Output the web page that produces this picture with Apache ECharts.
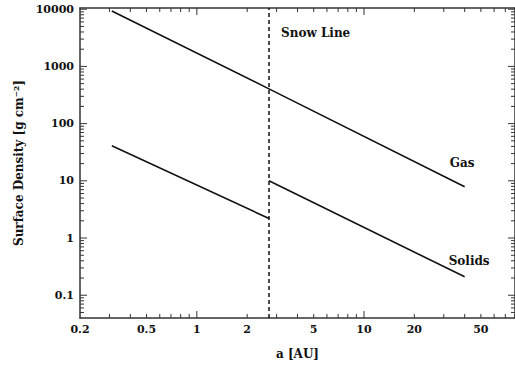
<!DOCTYPE html>
<html>
<head>
<meta charset="utf-8">
<script src="https://cdn.jsdelivr.net/npm/echarts@6/dist/echarts.min.js"></script>
<style>
html,body{margin:0;padding:0;background:#fff;}
#chart{width:515px;height:365px;}
</style>
</head>
<body>
<div id="chart"></div>
<script>
// ---- data ----
const gas = [[0.31, 9300], [2.7, 405], [40, 7.9]];
const solidsInner = [[0.31, 41], [2.7, 2.2]];
const solidsOuter = [[2.7, 10], [40, 0.21]];
const snowLine = 2.7;

const xLabelValues = [0.2, 0.5, 1, 2, 5, 10, 20, 50];
const xMajorTicks = [1, 10];
const xMinorTicks = [0.3, 0.4, 0.5, 0.6, 0.7, 0.8, 0.9, 2, 3, 4, 5, 6, 7, 8, 9, 20, 30, 40, 50, 60, 70, 80];
const yLabelValues = [0.1, 1, 10, 100, 1000, 10000];
const yMajorTicks = [0.1, 1, 10, 100, 1000, 10000];
const yMinorTicks = [0.05, 0.06, 0.07, 0.08, 0.09,
  0.2, 0.3, 0.4, 0.5, 0.6, 0.7, 0.8, 0.9,
  2, 3, 4, 5, 6, 7, 8, 9,
  20, 30, 40, 50, 60, 70, 80, 90,
  200, 300, 400, 500, 600, 700, 800, 900,
  2000, 3000, 4000, 5000, 6000, 7000, 8000, 9000];

const xMin = 0.2, xMax = 80, yMin = 0.04, yMax = 10500;

// ---- styles ----
const FONT = 'DejaVu Serif';
const frameColor = '#333';
const inkColor = '#111';
const fmt = v => String(Number(Number(v).toPrecision(6)));
const MAJOR_LEN = 7, MINOR_LEN = 4;

function baseAxis(min, max) {
  return {
    type: 'log', logBase: 10, min: min, max: max,
    axisLine: { show: true, lineStyle: { color: frameColor, width: 1.5 } },
    axisTick: { show: false },
    axisLabel: { show: false },
    splitLine: { show: false }, minorTick: { show: false }
  };
}

const xBottom = Object.assign(baseAxis(xMin, xMax), {
  position: 'bottom',
  axisLabel: { show: true, customValues: xLabelValues, margin: 6, color: '#111',
    fontFamily: FONT, fontWeight: 'bold', fontSize: 11, formatter: fmt },
  name: 'a [AU]', nameLocation: 'middle', nameGap: 30,
  nameTextStyle: { fontFamily: FONT, fontWeight: 'bold', fontSize: 12, color: '#111' }
});
const xTop = Object.assign(baseAxis(xMin, xMax), { position: 'top' });
const yLeft = Object.assign(baseAxis(yMin, yMax), {
  position: 'left',
  axisLabel: { show: true, customValues: yLabelValues, margin: 6, color: '#111',
    fontFamily: FONT, fontWeight: 'bold', fontSize: 11, formatter: fmt },
  name: 'Surface Density [g cm\u207B\u00B2]', nameLocation: 'middle', nameGap: 54, nameRotate: 90,
  nameTextStyle: { fontFamily: FONT, fontWeight: 'bold', fontSize: 12, color: '#111' }
});
const yRight = Object.assign(baseAxis(yMin, yMax), { position: 'right' });

// tick marks drawn through the axes' own scales
function xTickRender(len) {
  return function (params, api) {
    const v = api.value(0);
    const b = api.coord([v, yMin]);
    const t = api.coord([v, yMax]);
    const st = { stroke: frameColor, lineWidth: 1 };
    return { type: 'group', children: [
      { type: 'line', shape: { x1: b[0], y1: b[1], x2: b[0], y2: b[1] - len }, style: st },
      { type: 'line', shape: { x1: t[0], y1: t[1], x2: t[0], y2: t[1] + len }, style: st }
    ] };
  };
}
function yTickRender(len) {
  return function (params, api) {
    const v = api.value(1);
    const l = api.coord([xMin, v]);
    const r = api.coord([xMax, v]);
    const st = { stroke: frameColor, lineWidth: 1 };
    return { type: 'group', children: [
      { type: 'line', shape: { x1: l[0], y1: l[1], x2: l[0] + len, y2: l[1] }, style: st },
      { type: 'line', shape: { x1: r[0], y1: r[1], x2: r[0] - len, y2: r[1] }, style: st }
    ] };
  };
}
function tickSeries(name, data, render) {
  return { name: name, type: 'custom', xAxisIndex: 0, yAxisIndex: 0, silent: true,
    clip: false, renderItem: render, data: data, z: 3 };
}

const chart = echarts.init(document.getElementById('chart'), null, { renderer: 'svg' });
chart.setOption({
  animation: false,
  backgroundColor: '#fff',
  grid: { left: 80, top: 8, width: 440, height: 317 },
  xAxis: [xBottom, xTop],
  yAxis: [yLeft, yRight],
  graphic: [{
    type: 'text', left: 281, top: 27, silent: true,
    style: { text: 'Snow Line', fill: '#111', font: 'bold 12px "DejaVu Serif"' }
  }],
  series: [
    tickSeries('xMajor', xMajorTicks.map(v => [v, 1]), xTickRender(MAJOR_LEN)),
    tickSeries('xMinor', xMinorTicks.map(v => [v, 1]), xTickRender(MINOR_LEN)),
    tickSeries('yMajor', yMajorTicks.map(v => [1, v]), yTickRender(MAJOR_LEN)),
    tickSeries('yMinor', yMinorTicks.map(v => [1, v]), yTickRender(MINOR_LEN)),
    {
      name: 'Gas', type: 'line', xAxisIndex: 0, yAxisIndex: 0,
      data: gas, showSymbol: false, silent: true,
      lineStyle: { color: inkColor, width: 1.6 },
      endLabel: { show: true, formatter: 'Gas', offset: [-23, -24],
        fontFamily: FONT, fontWeight: 'bold', fontSize: 12, color: '#111' },
      markLine: {
        silent: true, symbol: ['none', 'none'], label: { show: false },
        lineStyle: { type: [4, 3], color: inkColor, width: 1.5 },
        data: [{ xAxis: snowLine }]
      }
    },
    {
      name: 'Solids inner', type: 'line', xAxisIndex: 0, yAxisIndex: 0,
      data: solidsInner, showSymbol: false, silent: true,
      lineStyle: { color: inkColor, width: 1.6 }
    },
    {
      name: 'Solids', type: 'line', xAxisIndex: 0, yAxisIndex: 0,
      data: solidsOuter, showSymbol: false, silent: true,
      lineStyle: { color: inkColor, width: 1.6 },
      endLabel: { show: true, formatter: 'Solids', offset: [-24, -16],
        fontFamily: FONT, fontWeight: 'bold', fontSize: 12, color: '#111' }
    }
  ]
});
</script>
</body>
</html>
